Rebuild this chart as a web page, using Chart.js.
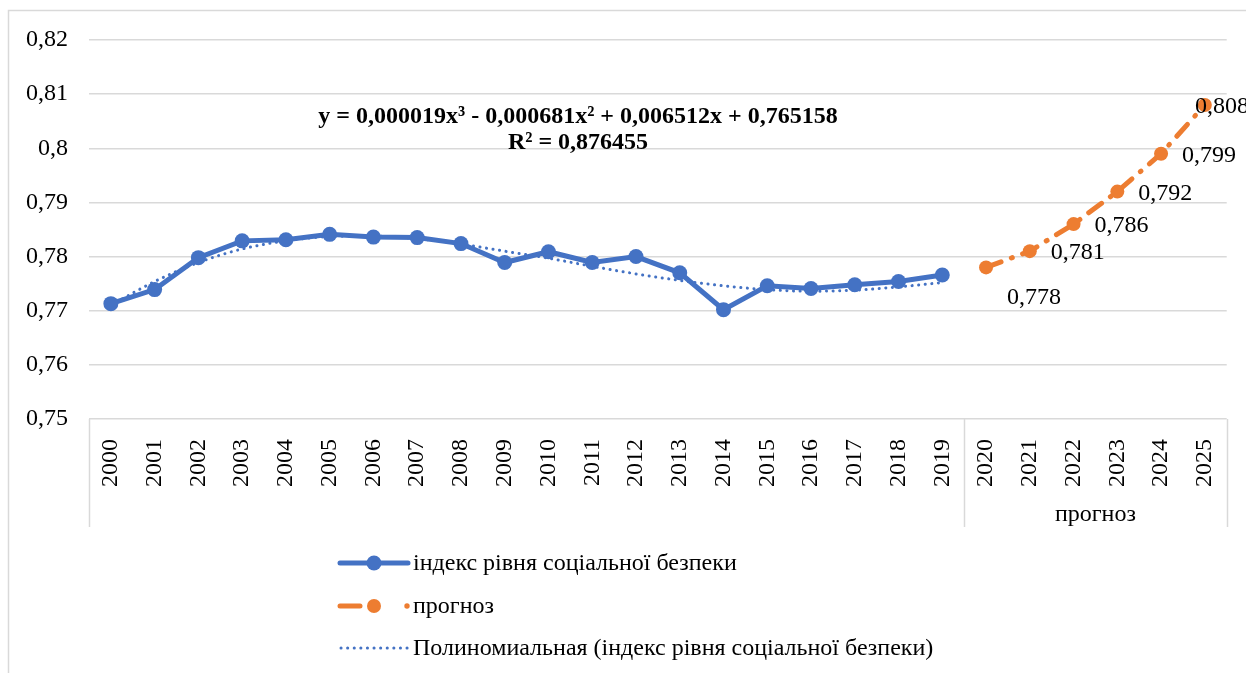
<!DOCTYPE html>
<html>
<head>
<meta charset="utf-8">
<script src="https://cdn.jsdelivr.net/npm/chart.js@4"></script>
<style>
    html, body { margin: 0; padding: 0; background: #fff; }
    #wrap { width: 1246px; height: 673px; position: relative; }
</style>
</head>
<body>
<div id="wrap"><canvas id="chart" width="1246" height="673"></canvas></div>
<script>
const years = ['2000', '2001', '2002', '2003', '2004', '2005', '2006', '2007', '2008', '2009',
    '2010', '2011', '2012', '2013', '2014', '2015', '2016', '2017', '2018', '2019',
    '2020', '2021', '2022', '2023', '2024', '2025'];

const indexValues = [0.7713, 0.7739, 0.7798, 0.7829, 0.7831, 0.7841, 0.7836, 0.7835, 0.7824, 0.7789,
    0.7809, 0.7789, 0.7800, 0.7770, 0.7702, 0.7746, 0.7741, 0.7748, 0.7754, 0.7766];

const forecastValues = [0.778, 0.781, 0.786, 0.792, 0.799, 0.808];

const trendValues = [0.7710, 0.7754, 0.7789, 0.7814, 0.7829, 0.7837, 0.7838, 0.7833, 0.7823, 0.7810,
    0.7797, 0.7782, 0.7768, 0.7756, 0.7746, 0.7739, 0.7736, 0.7738, 0.7744, 0.7752];

const groupLabel = 'прогноз';
const legendLabels = [
    'індекс рівня соціальної безпеки',
    'прогноз',
    'Полиномиальная (індекс рівня соціальної безпеки)',
];
const equationLines = [
    'y = 0,000019x³ - 0,000681x² + 0,006512x + 0,765158',
    'R² = 0,876455',
];

const BLUE = '#4472C4';
const ORANGE = '#ED7D31';
const GRID = '#d9d9d9';
const FONT = "'Liberation Serif', 'Times New Roman', serif";

Chart.defaults.font.family = FONT;
Chart.defaults.color = '#000';

const forecastData = Array(indexValues.length).fill(null).concat(forecastValues);

function commaNum(v, digits) {
    return String(+v.toFixed(digits)).replace('.', ',');
}

const decorPlugin = {
    id: 'decor',
    beforeDraw(chart) {
        const ctx = chart.ctx;
        ctx.save();
        ctx.strokeStyle = GRID;
        ctx.lineWidth = 1.5;
        ctx.strokeRect(8.5, 10.5, 1400, 800);
        ctx.restore();
    },
    afterDraw(chart) {
        const ctx = chart.ctx;
        const area = chart.chartArea;
        const x = chart.scales.x;
        const splitIdx = indexValues.length;
        const split = (x.getPixelForValue(splitIdx - 1) + x.getPixelForValue(splitIdx)) / 2;
        const lineBottom = area.bottom + 108;

        ctx.save();
        // category group separators
        ctx.strokeStyle = GRID;
        ctx.lineWidth = 1.5;
        [area.left, split, area.right].forEach((px) => {
            ctx.beginPath();
            ctx.moveTo(Math.round(px) + 0.5, area.bottom);
            ctx.lineTo(Math.round(px) + 0.5, lineBottom);
            ctx.stroke();
        });
        ctx.fillStyle = '#000';
        ctx.font = `24px ${FONT}`;
        ctx.textAlign = 'center';
        ctx.textBaseline = 'middle';
        ctx.fillText(groupLabel, (split + area.right) / 2, area.bottom + 96);

        // trendline equation
        ctx.font = `bold 24px ${FONT}`;
        ctx.fillText(equationLines[0], 578, 117);
        ctx.fillText(equationLines[1], 578, 143);

        // data labels for the forecast
        const meta = chart.getDatasetMeta(1);
        ctx.font = `24px ${FONT}`;
        ctx.textAlign = 'left';
        meta.data.forEach((pt, i) => {
            const v = forecastData[i];
            if (v === null || v === undefined) return;
            const first = i === splitIdx;
            const tx = Math.min(pt.x + 21, chart.width - 51);
            const ty = pt.y + (first ? 30 : 2);
            ctx.fillText(commaNum(v, 3), tx, ty);
        });

        // legend
        const lx = 340;
        const rows = [563, 606, 648];
        ctx.font = `24px ${FONT}`;
        ctx.textBaseline = 'middle';

        ctx.strokeStyle = BLUE;
        ctx.lineWidth = 5;
        ctx.lineCap = 'round';
        ctx.beginPath();
        ctx.moveTo(lx, rows[0]);
        ctx.lineTo(lx + 68, rows[0]);
        ctx.stroke();
        ctx.fillStyle = BLUE;
        ctx.beginPath();
        ctx.arc(lx + 34, rows[0], 7.5, 0, Math.PI * 2);
        ctx.fill();

        ctx.strokeStyle = ORANGE;
        ctx.beginPath();
        ctx.moveTo(lx, rows[1]);
        ctx.lineTo(lx + 20, rows[1]);
        ctx.stroke();
        ctx.fillStyle = ORANGE;
        ctx.beginPath();
        ctx.arc(lx + 34, rows[1], 7, 0, Math.PI * 2);
        ctx.fill();
        ctx.beginPath();
        ctx.arc(lx + 67, rows[1], 2.7, 0, Math.PI * 2);
        ctx.fill();

        ctx.strokeStyle = BLUE;
        ctx.lineWidth = 3;
        ctx.setLineDash([0.1, 6.5]);
        ctx.beginPath();
        ctx.moveTo(lx + 1, rows[2]);
        ctx.lineTo(lx + 68, rows[2]);
        ctx.stroke();
        ctx.setLineDash([]);

        ctx.fillStyle = '#000';
        legendLabels.forEach((t, i) => ctx.fillText(t, lx + 73, rows[i] + 1));
        ctx.restore();
    },
};

new Chart(document.getElementById('chart'), {
    type: 'line',
    data: {
        labels: years,
        datasets: [
            {
                label: legendLabels[0],
                data: indexValues,
                borderColor: BLUE,
                backgroundColor: BLUE,
                borderWidth: 5,
                pointRadius: 7.5,
                pointBorderWidth: 0,
                pointBackgroundColor: BLUE,
                tension: 0,
                order: 1,
            },
            {
                label: legendLabels[1],
                data: forecastData,
                borderColor: ORANGE,
                backgroundColor: ORANGE,
                borderWidth: 5,
                borderDash: [16, 11, 1, 11],
                borderCapStyle: 'round',
                pointRadius: 7,
                pointBorderWidth: 0,
                pointBackgroundColor: ORANGE,
                spanGaps: false,
                tension: 0,
                order: 2,
            },
            {
                label: legendLabels[2],
                data: trendValues,
                borderColor: BLUE,
                borderWidth: 3,
                borderDash: [0.1, 6.5],
                borderCapStyle: 'round',
                pointRadius: 0,
                cubicInterpolationMode: 'monotone',
                order: 3,
            },
        ],
    },
    options: {
        responsive: false,
        animation: false,
        layout: {
            padding: { top: 40, right: 19, bottom: 148, left: 0 },
        },
        plugins: {
            legend: { display: false },
            tooltip: { enabled: false },
        },
        scales: {
            x: {
                offset: true,
                grid: { display: false },
                border: { display: false },
                ticks: {
                    minRotation: 90,
                    maxRotation: 90,
                    padding: 12,
                    autoSkip: false,
                    color: '#000',
                    font: { size: 24 },
                },
                afterFit(scale) { scale.height = 106; },
            },
            y: {
                min: 0.75,
                max: 0.82,
                grid: { color: GRID, lineWidth: 1.5, drawTicks: false },
                border: { display: false },
                ticks: {
                    stepSize: 0.01,
                    padding: 21,
                    color: '#000',
                    font: { size: 24 },
                    callback: (v) => commaNum(v, 2),
                },
                afterFit(scale) { scale.width = 89; },
            },
        },
    },
    plugins: [decorPlugin],
});
</script>
</body>
</html>
